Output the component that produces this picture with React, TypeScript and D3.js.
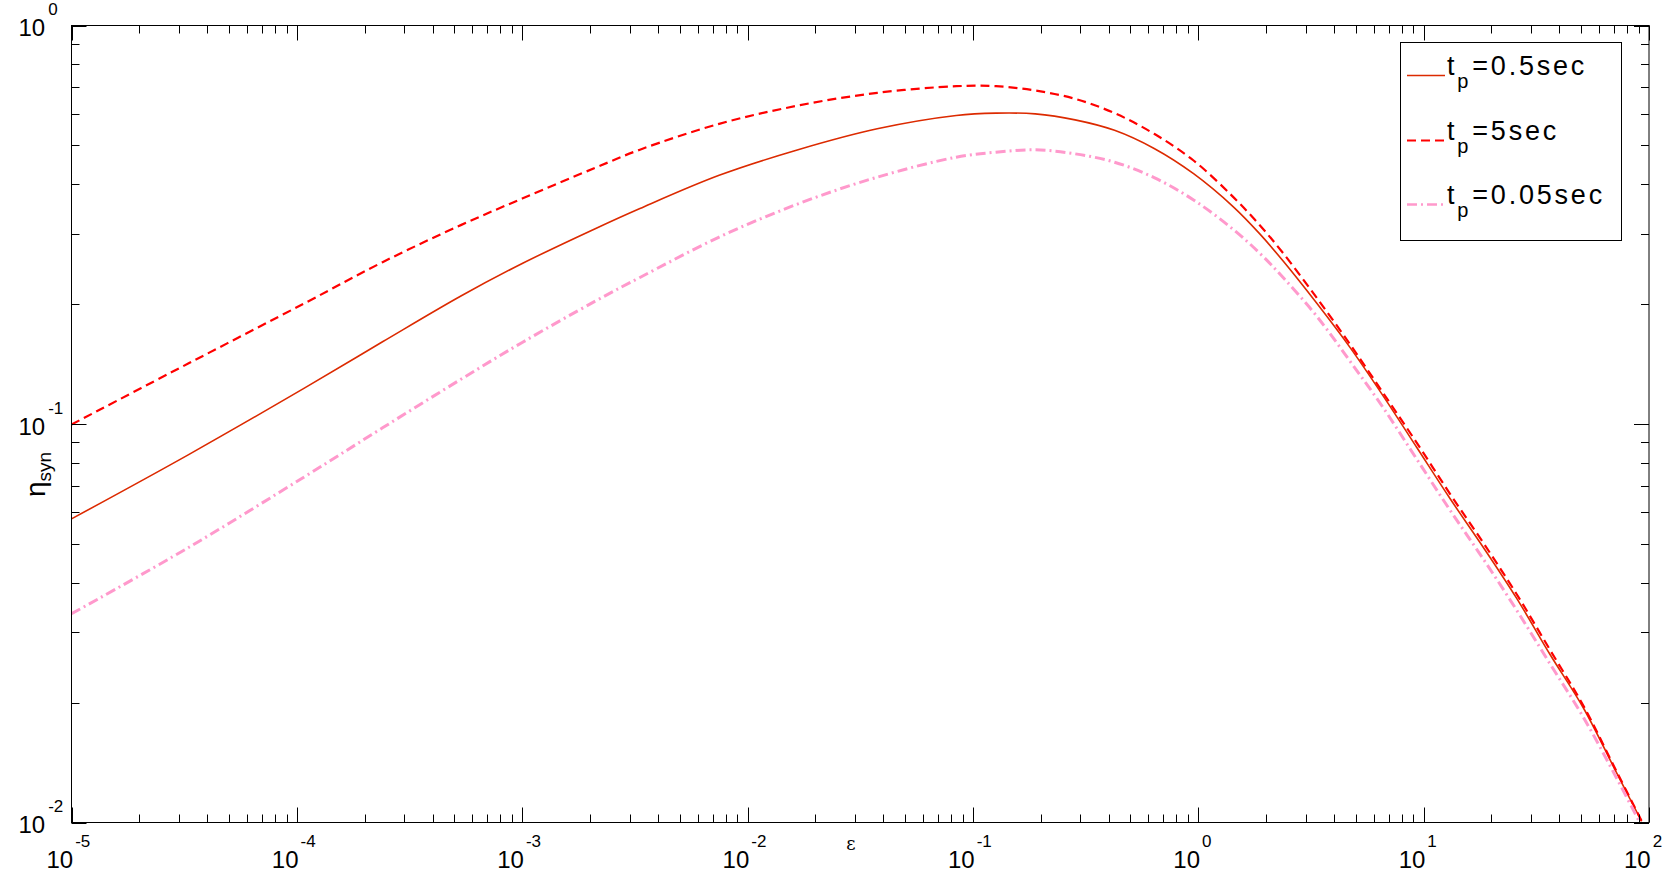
import React from "react";
import * as d3 from "d3";

// ε values (x) shared by all three series
const epsGrid = [1e-5, 3.31e-5, 1.084e-4, 2.4e-4, 5.37e-4, 1.0e-3, 2.12e-3, 3.33e-3, 7.48e-3, 0.01675, 0.0376, 0.0843, 0.1265, 0.189, 0.284, 0.425, 0.637, 0.953, 1.427, 1.879, 2.385, 3.35, 4.71, 6.62, 9.31, 13.09, 18.41, 25.88, 36.39, 51.17, 71.94, 92.7];

// η_syn for t_p = 0.5 sec (solid)
const etaTp05 = [0.0578, 0.0838, 0.1232, 0.1608, 0.2098, 0.2528, 0.3095, 0.3473, 0.4207, 0.4877, 0.5504, 0.5944, 0.6026, 0.6, 0.5797, 0.5457, 0.4913, 0.4247, 0.3512, 0.2995, 0.256, 0.2011, 0.1557, 0.1175, 0.0874, 0.065, 0.049, 0.0365, 0.0264, 0.01938, 0.0133, 0.01007];
// η_syn for t_p = 5 sec (dashed)
const etaTp5 = [0.0997, 0.142, 0.201, 0.2547, 0.316, 0.368, 0.44, 0.488, 0.5665, 0.6296, 0.6776, 0.7042, 0.7042, 0.6868, 0.6546, 0.6026, 0.5348, 0.4584, 0.3715, 0.3148, 0.2679, 0.2076, 0.1586, 0.1195, 0.0898, 0.0668, 0.0503, 0.0374, 0.0271, 0.01963, 0.0134, 0.0101];
// η_syn for t_p = 0.05 sec (dash-dot)
const etaTp005 = [0.0334, 0.049, 0.0738, 0.0978, 0.1297, 0.1602, 0.2037, 0.2332, 0.2945, 0.3568, 0.4163, 0.4673, 0.4809, 0.4876, 0.4764, 0.4539, 0.4152, 0.3649, 0.308, 0.2678, 0.2327, 0.1866, 0.1438, 0.1098, 0.0817, 0.0608, 0.0458, 0.0341, 0.025, 0.01836, 0.0129, 0.0098];

const legendLabels = ["=0.5sec", "=5sec", "=0.05sec"];
const xTickExps = [-5, -4, -3, -2, -1, 0, 1, 2];
const yTickExps = [-2, -1, 0];

const W = 1680;
const H = 875;
const L = 71.5, R = 1649, T = 25.5, B = 822.5;
const FONT = "'Liberation Sans', Arial, Helvetica, sans-serif";

export default function App() {
  const x = d3.scaleLog().domain([1e-5, 1e2]).range([L, R]);
  const y = d3.scaleLog().domain([1e-2, 1]).range([B, T]);

  const series = [
    { vals: etaTp05, color: "#dc2a00", width: 1.6, dash: "" },
    { vals: etaTp5, color: "#ff0000", width: 2.2, dash: "9,5" },
    { vals: etaTp005, color: "#ff99cc", width: 3, dash: "10,4,2,4" },
  ];

  const line = d3
    .line<[number, number]>()
    .x((d) => x(d[0]))
    .y((d) => y(d[1]))
    .curve(d3.curveCatmullRom.alpha(0.5));

  const majorX = xTickExps.map((e) => Math.pow(10, e));
  const minorX: number[] = [];
  for (let e = -5; e < 2; e++) for (let m = 2; m <= 9; m++) minorX.push(m * Math.pow(10, e));
  const majorY = yTickExps.map((e) => Math.pow(10, e));
  const minorY: number[] = [];
  for (let e = -2; e < 0; e++) for (let m = 2; m <= 9; m++) minorY.push(m * Math.pow(10, e));

  const MAJ = 15, MIN = 8;
  const ticks: JSX.Element[] = [];
  const addX = (v: number, len: number, k: string) => {
    const px = Math.round(x(v)) + 0.5;
    ticks.push(<line key={"xb" + k} x1={px} x2={px} y1={B} y2={B - len} stroke="#000" strokeWidth={1} />);
    ticks.push(<line key={"xt" + k} x1={px} x2={px} y1={T} y2={T + len} stroke="#000" strokeWidth={1} />);
  };
  const addY = (v: number, len: number, k: string) => {
    const py = Math.round(y(v)) + 0.5;
    ticks.push(<line key={"yl" + k} x1={L} x2={L + len} y1={py} y2={py} stroke="#000" strokeWidth={1} />);
    ticks.push(<line key={"yr" + k} x1={R} x2={R - len} y1={py} y2={py} stroke="#000" strokeWidth={1} />);
  };
  majorX.forEach((v, i) => addX(v, MAJ, "M" + i));
  minorX.forEach((v, i) => addX(v, MIN, "m" + i));
  majorY.forEach((v, i) => addY(v, MAJ, "M" + i));
  minorY.forEach((v, i) => addY(v, MIN, "m" + i));

  const legendBase = [75, 140, 204];

  return (
    <svg
      width={W}
      height={H}
      style={{ position: "absolute", left: 0, top: 0, background: "#fff" }}
      fontFamily={FONT}
    >
      <defs>
        <clipPath id="plotClip">
          <rect x={L} y={T} width={R - L} height={B - T} />
        </clipPath>
      </defs>
      <rect x={0} y={0} width={W} height={H} fill="#fff" />

      <g clipPath="url(#plotClip)">
        {series.map((s, i) => (
          <path
            key={i}
            d={line(epsGrid.map((e, j) => [e, s.vals[j]] as [number, number])) || ""}
            fill="none"
            stroke={s.color}
            strokeWidth={s.width}
            strokeDasharray={s.dash || undefined}
            strokeLinejoin="round"
          />
        ))}
      </g>

      {ticks}
      <rect x={L} y={T} width={R - L} height={B - T} fill="none" stroke="#000" strokeWidth={1} />

      {/* x tick labels */}
      {xTickExps.map((e, i) => (
        <text key={"xl" + i} x={x(Math.pow(10, e)) - 25} y={868} fontSize={24} fill="#000">
          10
          <tspan dx={2} dy={-21} fontSize={17}>
            {String(e)}
          </tspan>
        </text>
      ))}

      {/* y tick labels */}
      {yTickExps.map((e, i) => (
        <text key={"yl" + i} x={18.5} y={y(Math.pow(10, e)) + 10.5} fontSize={24} fill="#000">
          10
          <tspan dx={3} dy={-21} fontSize={17}>
            {String(e)}
          </tspan>
        </text>
      ))}

      {/* axis labels */}
      <text x={851} y={850} fontSize={18} textAnchor="middle" fontFamily="'DejaVu Serif', serif">
        ε
      </text>
      <text transform="translate(45,497) rotate(-90)" fontSize={28} fill="#000">
        η
        <tspan dy={6} fontSize={19}>
          syn
        </tspan>
      </text>

      {/* legend */}
      <rect x={1400.5} y={42.5} width={221} height={198} fill="#fff" stroke="#000" strokeWidth={1} />
      {series.map((s, i) => (
        <g key={"lg" + i}>
          <line
            x1={1407}
            x2={1445}
            y1={legendBase[i] + 0.5}
            y2={legendBase[i] + 0.5}
            stroke={s.color}
            strokeWidth={Math.min(s.width, 2.4)}
            strokeDasharray={s.dash || undefined}
          />
          <text x={1447} y={legendBase[i]} fontSize={27} fill="#000" letterSpacing={2.8}>
            t
            <tspan dy={13} fontSize={20}>
              p
            </tspan>
            <tspan dy={-13} dx={1}>
              {legendLabels[i]}
            </tspan>
          </text>
        </g>
      ))}
    </svg>
  );
}
